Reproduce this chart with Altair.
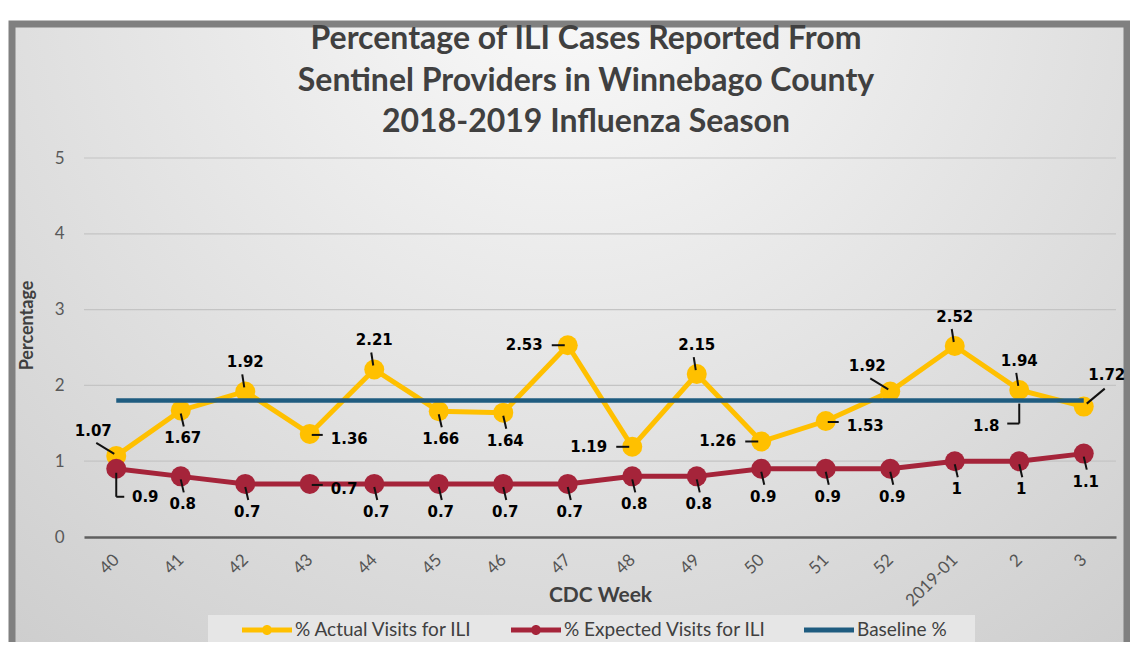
import altair as alt
import pandas as pd

weeks = ["40", "41", "42", "43", "44", "45", "46", "47", "48", "49", "50", "51", "52", "2019-01", "2", "3"]
actual = [1.07, 1.67, 1.92, 1.36, 2.21, 1.66, 1.64, 2.53, 1.19, 2.15, 1.26, 1.53, 1.92, 2.52, 1.94, 1.72]
expected = [0.9, 0.8, 0.7, 0.7, 0.7, 0.7, 0.7, 0.7, 0.8, 0.8, 0.9, 0.9, 0.9, 1, 1, 1.1]
baseline = [1.8, 1.8, 1.8, 1.8, 1.8, 1.8, 1.8, 1.8, 1.8, 1.8, 1.8, 1.8, 1.8, 1.8, 1.8, 1.8]
y_ticks = [0, 1, 2, 3, 4, 5]
series_names = ["% Actual Visits for ILI", "% Expected Visits for ILI", "Baseline %"]
title_lines = ["Percentage of ILI Cases Reported From",
               "Sentinel Providers in Winnebago County",
               "2018-2019 Influenza Season"]

# where each data label sits relative to its point
actual_pos = ["aboveleft", "below", "above", "right", "above", "below", "below", "left",
              "left", "above", "left", "right", "aboveleft", "above", "above", "aboveright"]
expected_pos = ["belowright", "below", "below", "right", "below", "below", "below", "below",
                "below", "below", "below", "below", "below", "below", "below", "below"]
baseline_pos = ["none", "none", "none", "none", "none", "none", "none", "none",
                "none", "none", "none", "none", "none", "none", "belowleft", "none"]

COLORS = {"actual": "#FFC000", "expected": "#A5243A", "baseline": "#1F5C80"}

PLACE = {
    "above": dict(dx=0, dy=-29, align="center", lead=[(-1, -4, -3, -17)]),
    "below": dict(dx=2, dy=28, align="center", lead=[(0, 3, 3, 16)]),
    "left": dict(dx=-25, dy=0, align="right", lead=[(-3, 0, -16, 0)]),
    "right": dict(dx=21, dy=5, align="left", lead=[(2, 1, 13, 1)]),
    "aboveleft": dict(dx=-23, dy=-25, align="center", lead=[(-2, -2, -20, -13)]),
    "aboveright": dict(dx=23, dy=-32, align="center", lead=[(3, -3, 21, -18)]),
    "belowleft": dict(dx=-33, dy=25, align="center", lead=[(0, 3, 0, 23), (0, 23, -12, 23)]),
    "belowright": dict(dx=29, dy=28, align="center", lead=[(0, 4, 0, 28), (0, 28, 8, 28)]),
}

rows = []
for key, vals, poss in (("actual", actual, actual_pos),
                        ("expected", expected, expected_pos),
                        ("baseline", baseline, baseline_pos)):
    for i, (w, v, p) in enumerate(zip(weeks, vals, poss)):
        rows.append({"week": w, "idx": i, "series": key, "value": v,
                     "label": f"{v:g}", "pos": p})
df = pd.DataFrame(rows)

x_axis = alt.Axis(
    title="CDC Week", labelAngle=-45, labelAlign="right", labelBaseline="middle",
    labelPadding=20, labelFont="Lato", labelFontSize=17, labelColor="#555555",
    labelOverlap=False, ticks=False, domainColor="#5f5f5f", domainWidth=2.5, grid=False,
    titleFont="Lato", titleFontSize=21, titleFontWeight="bold", titleColor="#404040",
    titleY=58, titleBaseline="middle", zindex=1,
)
y_axis = alt.Axis(
    title="Percentage", values=y_ticks, labelFont="Lato", labelFontSize=17,
    labelColor="#595959", labelPadding=20, ticks=False, domain=False, grid=False,
    titleFont="Lato", titleFontSize=18, titleFontWeight="bold", titleColor="#404040",
    titleX=-57, titleY=167, titleAngle=270, titleAlign="center", titleBaseline="middle",
    zindex=1,
)
x_enc = alt.X("week:N", sort=weeks, scale=alt.Scale(type="point", padding=0.5), axis=x_axis)
y_enc = alt.Y("value:Q", scale=alt.Scale(domain=[0, 5]), axis=y_axis)

base = alt.Chart(df)
one = pd.DataFrame({"k": [0]})

bg = alt.Chart(one).mark_rect(
    fill={"gradient": "radial", "x1": 0.5, "y1": 0.15, "r1": 0, "x2": 0.5, "y2": 0.15, "r2": 0.85,
          "stops": [{"offset": 0, "color": "#fbfbfb"}, {"offset": 1, "color": "#cbcbcb"}]},
    stroke="#808080", strokeWidth=7,
).encode(x=alt.value(-72), x2=alt.value(1043), y=alt.value(-134), y2=alt.value(500))

title = alt.Chart(one).mark_text(
    text=title_lines, font="Lato", fontSize=32, fontWeight="bold", color="#404040",
    lineHeight=41.5, align="center", baseline="middle",
).encode(x=alt.value(502), y=alt.value(-119))

legend_box = alt.Chart(one).mark_rect(fill="#e6e6e6").encode(
    x=alt.value(124), x2=alt.value(891), y=alt.value(457), y2=alt.value(500)
)

grid = alt.Chart(pd.DataFrame({"value": y_ticks[1:]})).mark_rule(
    color="#c4c4c4", strokeWidth=1.2
).encode(y=y_enc)

layers = [bg, title, legend_box, grid]

for key in ("actual", "expected"):
    sub = base.transform_filter(alt.datum.series == key)
    layers.append(sub.mark_line(color=COLORS[key], strokeWidth=5).encode(
        x=x_enc, y=y_enc, order="idx:Q"))
    layers.append(sub.mark_circle(color=COLORS[key], size=400, opacity=1).encode(
        x=x_enc, y=y_enc))

layers.append(base.transform_filter(alt.datum.series == "baseline").mark_line(
    color=COLORS["baseline"], strokeWidth=4.5).encode(x=x_enc, y=y_enc, order="idx:Q"))

for p, st in PLACE.items():
    sub = base.transform_filter(alt.datum.pos == p)
    for (sx, sy, ex, ey) in st["lead"]:
        layers.append(sub.mark_rule(
            color="#111111", strokeWidth=2,
            xOffset=sx, yOffset=sy, x2Offset=ex, y2Offset=ey,
        ).encode(x=x_enc, y=y_enc, x2="week", y2="value"))

for p, st in PLACE.items():
    sub = base.transform_filter(alt.datum.pos == p)
    layers.append(sub.mark_text(
        dx=st["dx"], dy=st["dy"], align=st["align"], baseline="middle",
        font="DejaVu Sans", fontWeight="bold", fontSize=15, color="#000000",
    ).encode(x=x_enc, y=y_enc, text="label:N"))

line_dot = "M-1,-0.25H4V0.25H-1Z M1,0 A0.5,0.5 0 1,1 2,0 A0.5,0.5 0 1,1 1,0 Z"
line_only = "M-1,-0.25H4V0.25H-1Z"
leg = alt.Legend(
    title=None, orient="none", legendX=158, legendY=462, direction="horizontal",
    columns=3, columnPadding=38, labelFont="Lato", labelFontSize=19, labelColor="#404040",
    labelOffset=33, symbolSize=400, symbolStrokeWidth=0, padding=0, zindex=1, labelLimit=400,
)
dummy = alt.Chart(pd.DataFrame({"series": series_names})).mark_point(
    filled=True, size=400, opacity=1
).encode(
    x=alt.value(-300), y=alt.value(-400),
    color=alt.Color("series:N", sort=series_names, legend=leg,
                    scale=alt.Scale(domain=series_names,
                                    range=[COLORS["actual"], COLORS["expected"], COLORS["baseline"]])),
    shape=alt.Shape("series:N", sort=series_names, legend=leg,
                    scale=alt.Scale(domain=series_names, range=[line_dot, line_dot, line_only])),
)
layers.append(dummy)

chart = alt.layer(*layers).properties(
    width=1032, height=379,
    autosize=alt.AutoSizeParams(type="none"),
    padding={"left": 76, "top": 150, "right": 14, "bottom": 105},
).configure_view(stroke=None).configure(background="white")

chart.save("out.html", embed_options={"renderer": "svg", "actions": False})
